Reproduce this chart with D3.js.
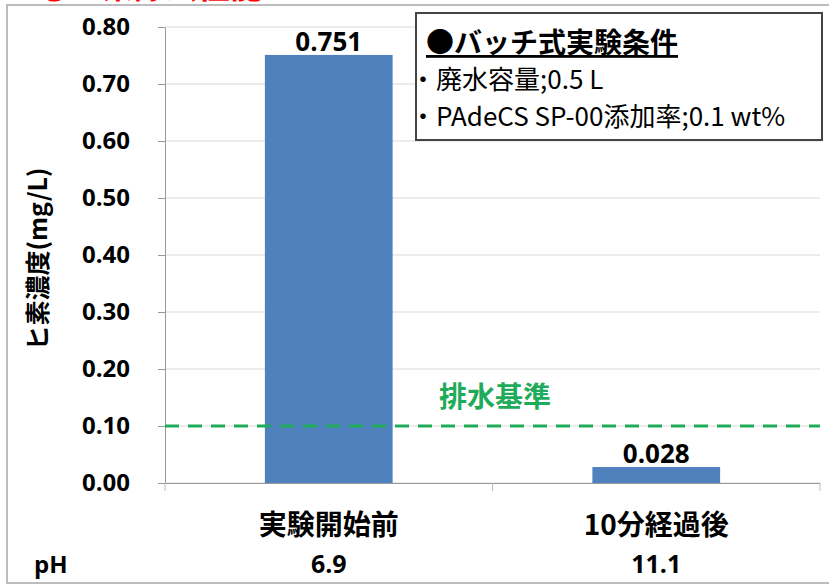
<!DOCTYPE html>
<html>
<head>
<meta charset="utf-8">
<script src="https://cdn.jsdelivr.net/npm/d3@7"></script>
<style>
    body { margin: 0; background: #fff; }
    svg { display: block; font-family: "Noto Sans CJK JP", "Noto Sans", sans-serif; }
</style>
</head>
<body>
<div class="chart"></div>
<script>
const categories = ['実験開始前', '10分経過後'];
const values = [0.751, 0.028];
const valueLabels = ['0.751', '0.028'];
const phValues = ['6.9', '11.1'];
const yTicks = [0, 0.1, 0.2, 0.3, 0.4, 0.5, 0.6, 0.7, 0.8];
const threshold = 0.10;
const legendLines = ['・廃水容量;0.5 L', '・PAdeCS SP-00添加率;0.1 wt%'];

const width = 829;
const height = 588;
const margin = { top: 27, right: 9, bottom: 105, left: 165 };
const numFont = '"Open Sans", "Noto Sans", sans-serif';

const svg = d3.select('.chart')
    .append('svg')
    .attr('width', width)
    .attr('height', height);

// red heading, mostly cut off above the frame
svg.append('text')
    .attr('x', 38)
    .attr('y', -2)
    .attr('fill', '#ff0000')
    .attr('font-size', 32)
    .attr('font-weight', 'bold')
    .text('❸ヒ素除去性能');

// outer frame
svg.append('rect')
    .attr('x', 7)
    .attr('y', 5)
    .attr('width', 830)
    .attr('height', 578)
    .attr('fill', 'none')
    .attr('stroke', '#bcbcbc')
    .attr('stroke-width', 2);

const plotW = width - margin.left - margin.right;
const plotH = height - margin.top - margin.bottom;

const g = svg.append('g')
    .attr('transform', `translate(${margin.left},${margin.top})`);

const x = d3.scaleBand()
    .domain(categories)
    .range([0, plotW])
    .paddingInner(0.61)
    .paddingOuter(0.305);

const y = d3.scaleLinear()
    .domain([0, 0.8])
    .range([plotH, 0]);

// gridlines
g.append('g')
    .selectAll('line')
    .data(yTicks)
    .enter()
    .append('line')
    .attr('x1', 0)
    .attr('x2', plotW)
    .attr('y1', (d) => y(d))
    .attr('y2', (d) => y(d))
    .attr('stroke', '#d9d9d9')
    .attr('stroke-width', 1);

// y axis
const yAxis = g.append('g')
    .call(d3.axisLeft(y)
        .tickValues(yTicks)
        .tickFormat(d3.format('.2f'))
        .tickSize(7)
        .tickSizeOuter(0)
        .tickPadding(28));
yAxis.select('.domain').attr('stroke', '#999');
yAxis.selectAll('.tick line').attr('stroke', '#999');
yAxis.selectAll('text')
    .attr('font-size', 24)
    .attr('font-weight', 'bold')
    .attr('fill', '#000')
    .attr('font-family', numFont);

// x axis
const xAxis = g.append('g')
    .attr('transform', `translate(0,${plotH})`)
    .call(d3.axisBottom(x).tickSize(0).tickFormat(''));
xAxis.select('.domain').attr('stroke', '#999');
const step = x.step();
xAxis.selectAll('.cat-tick')
    .data(d3.range(categories.length + 1))
    .enter()
    .append('line')
    .attr('x1', (d) => d * step)
    .attr('x2', (d) => d * step)
    .attr('y1', 0)
    .attr('y2', 8)
    .attr('stroke', '#bbb');

// bars
g.selectAll('.bar')
    .data(values)
    .enter()
    .append('rect')
    .attr('class', 'bar')
    .attr('x', (d, i) => x(categories[i]))
    .attr('y', (d) => y(d))
    .attr('width', x.bandwidth())
    .attr('height', (d) => plotH - y(d))
    .attr('fill', '#4f81bd');

// value labels
g.selectAll('.val')
    .data(values)
    .enter()
    .append('text')
    .attr('x', (d, i) => x(categories[i]) + x.bandwidth() / 2)
    .attr('y', (d) => y(d) - 4)
    .attr('text-anchor', 'middle')
    .attr('font-size', 26)
    .attr('font-weight', 'bold')
    .attr('font-family', numFont)
    .text((d, i) => valueLabels[i]);

// threshold line
g.append('line')
    .attr('x1', 0)
    .attr('x2', plotW)
    .attr('y1', y(threshold))
    .attr('y2', y(threshold))
    .attr('stroke', '#1eab5a')
    .attr('stroke-width', 3)
    .attr('stroke-dasharray', '14,9');

g.append('text')
    .attr('x', 274)
    .attr('y', y(threshold) - 19)
    .attr('fill', '#1eab5a')
    .attr('font-size', 28)
    .attr('font-weight', 'bold')
    .text('排水基準');

// category labels and pH row
g.selectAll('.cat')
    .data(categories)
    .enter()
    .append('text')
    .attr('x', (d) => x(d) + x.bandwidth() / 2)
    .attr('y', plotH + 52)
    .attr('text-anchor', 'middle')
    .attr('font-size', 28)
    .attr('font-weight', 'bold')
    .text((d) => d);

g.selectAll('.ph')
    .data(phValues)
    .enter()
    .append('text')
    .attr('x', (d, i) => x(categories[i]) + x.bandwidth() / 2)
    .attr('y', plotH + 90)
    .attr('text-anchor', 'middle')
    .attr('font-size', 25)
    .attr('font-weight', 'bold')
    .attr('font-family', numFont)
    .text((d) => d);

svg.append('text')
    .attr('x', 34)
    .attr('y', margin.top + plotH + 90)
    .attr('font-size', 24)
    .attr('font-weight', 'bold')
    .attr('font-family', numFont)
    .text('pH');

// y axis title
svg.append('text')
    .attr('transform', `translate(47,${margin.top + plotH / 2 + 4}) rotate(-90)`)
    .attr('text-anchor', 'middle')
    .attr('font-size', 25)
    .attr('font-weight', 'bold')
    .text('ヒ素濃度(mg/L)');

// legend box
const legend = svg.append('g').attr('transform', 'translate(416,13)');
legend.append('rect')
    .attr('width', 406)
    .attr('height', 127)
    .attr('fill', '#fff')
    .attr('stroke', '#444')
    .attr('stroke-width', 2);
legend.append('text')
    .attr('x', 10)
    .attr('y', 40)
    .attr('font-size', 28)
    .attr('font-weight', 'bold')
    .attr('text-decoration', 'underline')
    .text('●バッチ式実験条件');
legend.selectAll('.leg')
    .data(legendLines)
    .enter()
    .append('text')
    .attr('x', -6)
    .attr('y', (d, i) => 76 + i * 37)
    .attr('font-size', 26)
    .text((d) => d);
</script>
</body>
</html>
